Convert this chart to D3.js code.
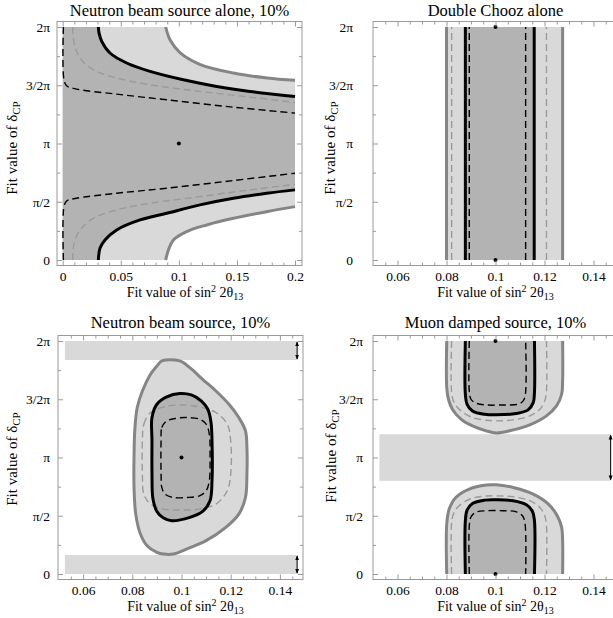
<!DOCTYPE html>
<html><head><meta charset="utf-8">
<script src="https://cdn.jsdelivr.net/npm/d3@7"></script>
<style>
body{margin:0;background:#fff}
text{font-family:"Liberation Serif","Times New Roman","DejaVu Serif",serif;fill:#000}
</style>
</head><body>
<svg id="c" width="613" height="618"></svg>
<script>
// ---------- data (x: sin^2 2theta13, y: delta_CP in units of pi) ----------
const xTicksWide = [0, 0.05, 0.1, 0.15, 0.2];
const xTickLabelsWide = ["0", "0.05", "0.1", "0.15", "0.2"];
const xTicksNarrow = [0.06, 0.08, 0.1, 0.12, 0.14];
const xTickLabelsNarrow = ["0.06", "0.08", "0.1", "0.12", "0.14"];
const yTicks = [0, 0.5, 1, 1.5, 2];
const yTickLabels = ["0", "π/2", "π", "3/2π", "2π"];
const titles = ["Neutron beam source alone, 10%", "Double Chooz alone", "Neutron beam source, 10%", "Muon damped source, 10%"];

// Panel 1: neutron beam source alone
const nbAloneGrayUpper = [[0.0887,2.0],[0.0924,1.89],[0.101,1.78],[0.118,1.68],[0.147,1.605],[0.176,1.562],[0.2,1.542]];
const nbAloneGrayLower = [[0.0887,0],[0.091,0.086],[0.0953,0.172],[0.1067,0.244],[0.124,0.301],[0.147,0.358],[0.1756,0.415],[0.2,0.458]];
const nbAloneBlackUpper = [[0.0307,2.0],[0.0313,1.948],[0.0336,1.877],[0.0407,1.777],[0.0551,1.691],[0.0752,1.619],[0.1039,1.547],[0.1326,1.49],[0.1613,1.447],[0.2,1.404]];
const nbAloneBlackLower = [[0.0307,0],[0.0321,0.1],[0.0364,0.172],[0.0465,0.258],[0.0666,0.344],[0.0895,0.401],[0.1182,0.473],[0.1469,0.53],[0.1756,0.573],[0.2,0.602]];
const nbAloneGrayDashUpper = [[0.0086,2.0],[0.0098,1.862],[0.0149,1.734],[0.0264,1.633],[0.0465,1.562],[0.0752,1.504],[0.1182,1.447],[0.1613,1.398],[0.2,1.352]];
const nbAloneGrayDashLower = [[0.0086,0],[0.0098,0.143],[0.0149,0.258],[0.0264,0.358],[0.0465,0.43],[0.0752,0.487],[0.1182,0.544],[0.1613,0.602],[0.2,0.65]];
const nbAloneBlackDashUpper = [[0.0006,2.0],[0.0011,1.547],[0.0034,1.496],[0.012,1.467],[0.0465,1.424],[0.0895,1.375],[0.1469,1.312],[0.2,1.261]];
const nbAloneBlackDashLower = [[0.0006,0],[0.0011,0.458],[0.0034,0.507],[0.012,0.53],[0.0465,0.573],[0.0895,0.616],[0.1469,0.682],[0.2,0.745]];

// Panel 2: Double Chooz alone (vertical contour edges)
const dcGrayEdges = [0.0800, 0.1274];
const dcGrayDashEdges = [0.0821, 0.1208];
const dcBlackEdges = [0.0877, 0.1158];
const dcBlackDashEdges = [0.0893, 0.1123];

// Panel 3: neutron beam source (closed contours)
const nbGrayOuter = [[0.0920,1.829],[0.0993,1.829],[0.1034,1.771],[0.1086,1.671],[0.1140,1.571],[0.1193,1.457],[0.1233,1.343],[0.1260,1.229],[0.1266,1.086],[0.1266,0.857],[0.1260,0.657],[0.1233,0.514],[0.1180,0.4],[0.1100,0.286],[0.1020,0.214],[0.0966,0.171],[0.0927,0.171],[0.0900,0.186],[0.0860,0.243],[0.0833,0.343],[0.0814,0.514],[0.0807,0.743],[0.0807,1.0],[0.0810,1.229],[0.0820,1.429],[0.0841,1.571],[0.0874,1.714],[0.0900,1.786]];
const nbBlack = [[0.0880,1.343],[0.0900,1.457],[0.0940,1.52],[0.0993,1.549],[0.1040,1.537],[0.1080,1.486],[0.1107,1.414],[0.1120,1.3],[0.1124,1.143],[0.1124,0.8],[0.1116,0.629],[0.1086,0.537],[0.1034,0.486],[0.0960,0.457],[0.0927,0.48],[0.0900,0.537],[0.0884,0.643],[0.0880,0.857],[0.0880,1.143]];
const nbGrayDash = [[0.0841,1.143],[0.0847,1.286],[0.0874,1.386],[0.0927,1.434],[0.1,1.451],[0.1073,1.434],[0.1140,1.386],[0.1186,1.286],[0.1200,1.143],[0.1200,0.857],[0.1186,0.714],[0.1140,0.6],[0.1073,0.557],[0.1,0.549],[0.0927,0.557],[0.0874,0.6],[0.0847,0.686],[0.0841,0.857]];
const nbBlackDash = [[0.0917,1.143],[0.0920,1.257],[0.0940,1.314],[0.0980,1.337],[0.1020,1.343],[0.1073,1.329],[0.1100,1.286],[0.1113,1.2],[0.1116,1.0],[0.1113,0.8],[0.1100,0.714],[0.1073,0.671],[0.1020,0.657],[0.0966,0.657],[0.0933,0.686],[0.0920,0.743],[0.0917,0.857]];
const nbBands = [[1.837, 2], [0, 0.163]];
const bandX = [0.0526, 0.1472];

// Panel 4: muon damped source
const mdGrayUpper = [[0.0801,2.0],[0.0801,1.6],[0.0808,1.5],[0.0824,1.414],[0.0859,1.329],[0.0906,1.271],[0.0962,1.229],[0.1003,1.211],[0.1057,1.229],[0.1140,1.28],[0.1208,1.357],[0.1249,1.443],[0.1270,1.543],[0.1274,1.657],[0.1274,2.0]];
const mdGrayDashUpper = [[0.0821,2.0],[0.0821,1.557],[0.0831,1.471],[0.0859,1.4],[0.0906,1.343],[0.0962,1.32],[0.1003,1.314],[0.1072,1.323],[0.1140,1.357],[0.1181,1.414],[0.1201,1.486],[0.1208,1.571],[0.1208,2.0]];
const mdBlackUpper = [[0.0877,2.0],[0.0877,1.543],[0.0884,1.457],[0.0906,1.4],[0.0955,1.371],[0.1003,1.366],[0.1085,1.377],[0.1133,1.409],[0.1154,1.471],[0.1159,1.557],[0.1159,2.0]];
const mdBlackDashUpper = [[0.0893,2.0],[0.0893,1.571],[0.0900,1.5],[0.0921,1.466],[0.0962,1.451],[0.1031,1.451],[0.1092,1.457],[0.1113,1.486],[0.1122,1.543],[0.1123,2.0]];
const mdGrayLower = [[0.0801,0],[0.0801,0.429],[0.0811,0.557],[0.0838,0.657],[0.0893,0.729],[0.0962,0.763],[0.1003,0.766],[0.1072,0.743],[0.1154,0.686],[0.1216,0.6],[0.1252,0.5],[0.1270,0.4],[0.1274,0.286],[0.1274,0]];
const mdGrayDashLower = [[0.0821,0],[0.0821,0.443],[0.0831,0.529],[0.0859,0.6],[0.0906,0.651],[0.0962,0.669],[0.1003,0.671],[0.1072,0.663],[0.1140,0.629],[0.1181,0.571],[0.1201,0.5],[0.1208,0.414],[0.1208,0]];
const mdBlackLower = [[0.0877,0],[0.0877,0.457],[0.0884,0.549],[0.0906,0.606],[0.0955,0.634],[0.1003,0.637],[0.1072,0.629],[0.1126,0.594],[0.1151,0.537],[0.1159,0.457],[0.1159,0]];
const mdBlackDashLower = [[0.0893,0],[0.0893,0.414],[0.0900,0.491],[0.0921,0.531],[0.0962,0.543],[0.1031,0.543],[0.1085,0.534],[0.1110,0.5],[0.1120,0.443],[0.1123,0]];
const mdBands = [[0.8, 1.2]];

const bestFitCentre = [[0.1, 1]];
const bestFitEdges = [[0.1, 0], [0.1, 2]];

// ---------- styles ----------
const LIGHT = "#d9d9d9", DARK = "#b3b3b3";
const GRAY_LINE = "#858585", GRAY_DASH = "#9a9a9a", FRAME = "#9a9a9a";
const FONT = '"Liberation Serif", "Times New Roman", "DejaVu Serif", serif';

const svg = d3.select("#c");
const defs = svg.append("defs");
defs.append("marker").attr("id", "ah").attr("viewBox", "0 0 8 8").attr("refX", 7).attr("refY", 4)
  .attr("markerWidth", 5).attr("markerHeight", 5).attr("orient", "auto-start-reverse")
  .attr("markerUnits", "userSpaceOnUse")
  .append("path").attr("d", "M0,0.8L8,4L0,7.2z").attr("fill", "#000");

const panels = [
  {L: 57, T: 21.5, xd: [0, 0.2], xr: [62.7, 295], ticks: xTicksWide, labels: xTickLabelsWide, minor: 0.01,
   yLabPad: 7, yTitleX: 16.7, yTitleY: 148, xTitleX: 185, titleY: 16},
  {L: 373, T: 21.5, xd: [0.05, 0.15], xr: [373, 618], ticks: xTicksNarrow, labels: xTickLabelsNarrow, minor: 0.005,
   yLabPad: 20, yTitleX: 335.3, yTitleY: 148, xTitleX: 495.5, titleY: 16},
  {L: 58, T: 335.5, xd: [0.05, 0.15], xr: [58.5, 304.5], ticks: xTicksNarrow, labels: xTickLabelsNarrow, minor: 0.005,
   yLabPad: 8, yTitleX: 17.3, yTitleY: 459, xTitleX: 185.5, titleY: 328},
  {L: 373, T: 335.5, xd: [0.05, 0.15], xr: [373, 618], ticks: xTicksNarrow, labels: xTickLabelsNarrow, minor: 0.005,
   yLabPad: 10, yTitleX: 336, yTitleY: 456, xTitleX: 495.5, titleY: 328}
];
const PW = 245, PH = 244;

function lineStr(pts, x, y, curve) {
  return d3.line().x(d => x(d[0])).y(d => y(d[1])).curve(curve)(pts);
}
function joinSegs(strs) {
  return strs.map((s, i) => i === 0 ? s : s.replace(/^M/, "L")).join("") + "Z";
}
const CR = d3.curveCatmullRom.alpha(0.5);
const CRC = d3.curveCatmullRomClosed.alpha(0.5);

panels.forEach((p, i) => {
  const g = svg.append("g");
  const x = d3.scaleLinear().domain(p.xd).range(p.xr);
  const y = d3.scaleLinear().domain([0, 2]).range([p.T + 238.5, p.T + 5.5]);
  p.x = x; p.y = y;
  const clipId = "clip" + i;
  defs.append("clipPath").attr("id", clipId).append("rect")
    .attr("x", p.L).attr("y", p.T).attr("width", PW).attr("height", PH);
  p.g = g.append("g").attr("clip-path", `url(#${clipId})`);
  p.axes = g;
});

function stroke(g, d, kind) {
  const st = {
    gray: {c: GRAY_LINE, w: 3, da: null},
    black: {c: "#000", w: 3, da: null},
    grayDash: {c: GRAY_DASH, w: 1.4, da: "7,4"},
    blackDash: {c: "#000", w: 1.4, da: "7,4"}
  }[kind];
  g.append("path").attr("d", d).attr("fill", "none").attr("stroke", st.c)
    .attr("stroke-width", st.w).attr("stroke-dasharray", st.da).attr("stroke-linejoin", "round");
}
function dots(p, pts) {
  p.g.selectAll(null).data(pts).enter().append("circle")
    .attr("cx", d => p.x(d[0])).attr("cy", d => p.y(d[1])).attr("r", 2).attr("fill", "#000");
}
function bands(p, bs) {
  p.g.selectAll(null).data(bs).enter().append("rect")
    .attr("x", p.x(bandX[0])).attr("width", p.x(bandX[1]) - p.x(bandX[0]))
    .attr("y", d => p.y(d[1])).attr("height", d => p.y(d[0]) - p.y(d[1]))
    .attr("fill", LIGHT);
}
function arrows(p, bs) {
  const ax = p.x(bandX[1]) - 0.5;
  p.g.selectAll(null).data(bs).enter().append("line")
    .attr("x1", ax).attr("x2", ax)
    .attr("y1", d => p.y(d[1]) + 1).attr("y2", d => p.y(d[0]) - 1)
    .attr("stroke", "#000").attr("stroke-width", 1)
    .attr("marker-start", "url(#ah)").attr("marker-end", "url(#ah)");
}

// ---- Panel 1 ----
{
  const p = panels[0], x = p.x, y = p.y;
  const lightD = joinSegs([lineStr([[0, 0], [0, 2]], x, y, d3.curveLinear), lineStr(nbAloneGrayUpper, x, y, CR), lineStr(nbAloneGrayLower.slice().reverse(), x, y, CR)]);
  const darkD = joinSegs([lineStr([[0, 0], [0, 2]], x, y, d3.curveLinear), lineStr(nbAloneBlackUpper, x, y, CR), lineStr(nbAloneBlackLower.slice().reverse(), x, y, CR)]);
  p.g.append("path").attr("d", lightD).attr("fill", LIGHT);
  p.g.append("path").attr("d", darkD).attr("fill", DARK);
  [nbAloneBlackDashUpper, nbAloneBlackDashLower].forEach(a => stroke(p.g, lineStr(a, x, y, CR), "blackDash"));
  [nbAloneGrayDashUpper, nbAloneGrayDashLower].forEach(a => stroke(p.g, lineStr(a, x, y, CR), "grayDash"));
  [nbAloneGrayUpper, nbAloneGrayLower].forEach(a => stroke(p.g, lineStr(a, x, y, CR), "gray"));
  [nbAloneBlackUpper, nbAloneBlackLower].forEach(a => stroke(p.g, lineStr(a, x, y, CR), "black"));
  dots(p, bestFitCentre);
}
// ---- Panel 2 ----
{
  const p = panels[1], x = p.x, y = p.y;
  p.g.append("rect").attr("x", x(dcGrayEdges[0])).attr("width", x(dcGrayEdges[1]) - x(dcGrayEdges[0]))
    .attr("y", y(2)).attr("height", y(0) - y(2)).attr("fill", LIGHT);
  p.g.append("rect").attr("x", x(dcBlackEdges[0])).attr("width", x(dcBlackEdges[1]) - x(dcBlackEdges[0]))
    .attr("y", y(2)).attr("height", y(0) - y(2)).attr("fill", DARK);
  const vl = e => lineStr([[e, 0], [e, 2]], x, y, d3.curveLinear);
  dcGrayDashEdges.forEach(e => stroke(p.g, vl(e), "grayDash"));
  dcBlackDashEdges.forEach(e => stroke(p.g, vl(e), "blackDash"));
  dcGrayEdges.forEach(e => stroke(p.g, vl(e), "gray"));
  dcBlackEdges.forEach(e => stroke(p.g, vl(e), "black"));
  dots(p, bestFitEdges);
}
// ---- Panel 3 ----
{
  const p = panels[2], x = p.x, y = p.y;
  bands(p, nbBands);
  p.g.append("path").attr("d", lineStr(nbGrayOuter, x, y, CRC)).attr("fill", LIGHT);
  p.g.append("path").attr("d", lineStr(nbBlack, x, y, CRC)).attr("fill", DARK);
  stroke(p.g, lineStr(nbBlackDash, x, y, CRC), "blackDash");
  stroke(p.g, lineStr(nbGrayDash, x, y, CRC), "grayDash");
  stroke(p.g, lineStr(nbGrayOuter, x, y, CRC), "gray");
  stroke(p.g, lineStr(nbBlack, x, y, CRC), "black");
  arrows(p, nbBands);
  dots(p, bestFitCentre);
}
// ---- Panel 4 ----
{
  const p = panels[3], x = p.x, y = p.y;
  bands(p, mdBands);
  [mdGrayUpper, mdGrayLower].forEach(a => p.g.append("path").attr("d", lineStr(a, x, y, CR) + "Z").attr("fill", LIGHT));
  [mdBlackUpper, mdBlackLower].forEach(a => p.g.append("path").attr("d", lineStr(a, x, y, CR) + "Z").attr("fill", DARK));
  [mdBlackDashUpper, mdBlackDashLower].forEach(a => stroke(p.g, lineStr(a, x, y, CR), "blackDash"));
  [mdGrayDashUpper, mdGrayDashLower].forEach(a => stroke(p.g, lineStr(a, x, y, CR), "grayDash"));
  [mdGrayUpper, mdGrayLower].forEach(a => stroke(p.g, lineStr(a, x, y, CR), "gray"));
  [mdBlackUpper, mdBlackLower].forEach(a => stroke(p.g, lineStr(a, x, y, CR), "black"));
  arrows(p, mdBands);
  dots(p, bestFitEdges);
}

// ---------- frames, axes, labels ----------
panels.forEach((p, i) => {
  const g = p.axes, x = p.x, y = p.y;
  const B = p.T + PH, R = p.L + PW;
  g.append("rect").attr("x", p.L).attr("y", p.T).attr("width", PW).attr("height", PH)
    .attr("fill", "none").attr("stroke", FRAME).attr("stroke-width", 1);
  const minorX = d3.range(p.xd[0], p.xd[1] + 1e-9, p.minor).map(v => +v.toFixed(4))
    .filter(v => !p.ticks.some(t => Math.abs(t - v) < 1e-6))
    .filter(v => x(v) > p.L + 0.5 && x(v) < R - 0.5);
  const minorY = [0.25, 0.75, 1.25, 1.75];
  const style = sel => {
    sel.select(".domain").remove();
    sel.selectAll("line").attr("stroke", FRAME);
    sel.selectAll("text").style("font-family", FONT).style("font-size", "13.5px").attr("fill", "#000");
  };
  g.append("g").attr("transform", `translate(0,${B})`)
    .call(d3.axisBottom(x).tickValues(p.ticks).tickFormat((d, k) => p.labels[k]).tickSize(-5).tickPadding(6)).call(style);
  g.append("g").attr("transform", `translate(0,${B})`)
    .call(d3.axisBottom(x).tickValues(minorX).tickFormat("").tickSize(-3)).call(style);
  g.append("g").attr("transform", `translate(0,${p.T})`)
    .call(d3.axisTop(x).tickValues(p.ticks).tickFormat("").tickSize(-5)).call(style);
  g.append("g").attr("transform", `translate(0,${p.T})`)
    .call(d3.axisTop(x).tickValues(minorX).tickFormat("").tickSize(-3)).call(style);
  g.append("g").attr("transform", `translate(${p.L},0)`)
    .call(d3.axisLeft(y).tickValues(yTicks).tickFormat((d, k) => yTickLabels[k]).tickSize(-5).tickPadding(p.yLabPad)).call(style);
  g.append("g").attr("transform", `translate(${p.L},0)`)
    .call(d3.axisLeft(y).tickValues(minorY).tickFormat("").tickSize(-3)).call(style);
  g.append("g").attr("transform", `translate(${R},0)`)
    .call(d3.axisRight(y).tickValues(yTicks).tickFormat("").tickSize(-5)).call(style);
  g.append("g").attr("transform", `translate(${R},0)`)
    .call(d3.axisRight(y).tickValues(minorY).tickFormat("").tickSize(-3)).call(style);

  g.append("text").attr("x", p.L + PW / 2).attr("y", p.titleY).attr("text-anchor", "middle")
    .style("font-family", FONT).style("font-size", "16.5px").text(titles[i]);
  const xl = g.append("text").attr("x", p.xTitleX).attr("y", B + 31.5).attr("text-anchor", "middle")
    .style("font-family", FONT).style("font-size", "14px");
  xl.append("tspan").text("Fit value of sin");
  xl.append("tspan").attr("dy", -5).style("font-size", "10px").text("2");
  xl.append("tspan").attr("dy", 5).text(" 2θ");
  xl.append("tspan").attr("dy", 3).style("font-size", "10px").text("13");
  const yl = g.append("text").attr("transform", `translate(${p.yTitleX},${p.yTitleY}) rotate(-90)`)
    .attr("text-anchor", "middle").style("font-family", FONT).style("font-size", "15px");
  yl.append("tspan").text("Fit value of δ");
  yl.append("tspan").attr("dy", 3).style("font-size", "11px").text("CP");
});
</script>
</body></html>
